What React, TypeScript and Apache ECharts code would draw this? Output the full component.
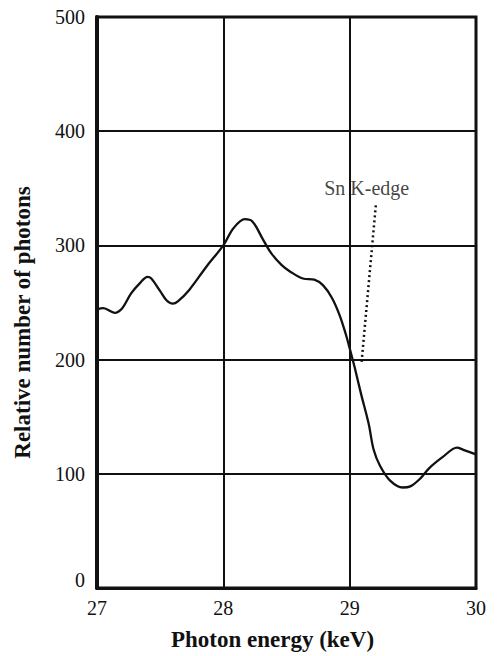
import React, { useEffect, useRef } from "react";
import * as echarts from "echarts";

const energy = [27.0, 27.05, 27.14, 27.2, 27.27, 27.34, 27.4, 27.43, 27.5, 27.55, 27.6, 27.64, 27.73, 27.87, 28.0, 28.08, 28.17, 28.23, 28.31, 28.38, 28.46, 28.53, 28.63, 28.72, 28.79, 28.86, 28.92, 28.97, 29.0, 29.04, 29.09, 29.15, 29.19, 29.24, 29.32, 29.42, 29.48, 29.56, 29.63, 29.74, 29.85, 29.9, 30.0];
const photons = [244, 245, 241, 245, 258, 267, 272.5, 271, 260, 252, 249, 251, 261, 282, 300, 315, 323, 321, 306, 293, 283, 277, 271, 270, 265, 254, 239, 222, 210, 193, 170, 144, 121, 107, 94, 88, 89, 96, 105, 115, 123, 121, 117];

const edgeLineX = [29.207, 29.093];
const edgeLineY = [335, 196];
const edgeLabelPos = [29.135, 350];
const edgeLabel = "Sn K-edge";

const xTicks = [27, 28, 29, 30];
const yTicks = [0, 100, 200, 300, 400, 500];
const xName = "Photon energy (keV)";
const yName = "Relative number of photons";

const FONT = "'Liberation Serif', 'Times New Roman', serif";
const INK = "#111";

export default function App() {
  const ref = useRef<HTMLDivElement>(null);
  useEffect(() => {
    if (!ref.current) return;
    const chart = echarts.init(ref.current, undefined, { renderer: "svg" });
    chart.setOption({
      animation: false,
      backgroundColor: "#fff",
      textStyle: { fontFamily: FONT, color: INK },
      grid: {
        left: 97,
        right: 23,
        top: 17,
        bottom: 64,
        show: true,
        borderColor: INK,
        borderWidth: 3,
      },
      xAxis: {
        type: "value",
        min: xTicks[0],
        max: xTicks[xTicks.length - 1],
        interval: 1,
        axisLine: { show: true, lineStyle: { color: INK, width: 3 } },
        axisTick: { show: false },
        splitLine: { show: true, lineStyle: { color: INK, width: 2 } },
        axisLabel: { color: INK, fontFamily: FONT, fontSize: 20, margin: 10 },
        name: xName,
        nameLocation: "middle",
        nameGap: 40,
        nameTextStyle: { fontFamily: FONT, fontWeight: "bold", fontSize: 23, color: INK, padding: [0, 28, 0, 0] },
      },
      yAxis: {
        type: "value",
        min: yTicks[0],
        max: yTicks[yTicks.length - 1],
        interval: 100,
        axisLine: { show: true, lineStyle: { color: INK, width: 4 } },
        axisTick: { show: false },
        splitLine: { show: true, lineStyle: { color: INK, width: 2 } },
        axisLabel: {
          color: INK,
          fontFamily: FONT,
          fontSize: 20,
          margin: 12,
          formatter: (v: number) => (v === 0 ? "{z|0}" : String(v)),
          rich: { z: { fontFamily: FONT, fontSize: 20, color: INK, padding: [0, 0, 16, 0] } },
        },
        name: yName,
        nameLocation: "middle",
        nameGap: 63,
        nameRotate: 90,
        nameTextStyle: { fontFamily: FONT, fontWeight: "bold", fontSize: 23, color: INK, padding: [0, 40, 0, 0] },
      },
      series: [
        {
          type: "line",
          data: energy.map((e, i) => [e, photons[i]]),
          smooth: 0.35,
          symbol: "none",
          lineStyle: { color: INK, width: 2.3 },
          z: 5,
        },
        {
          type: "line",
          data: edgeLineX.map((e, i) => [e, edgeLineY[i]]),
          symbol: "none",
          lineStyle: { color: INK, width: 2.5, type: [2, 3] },
          z: 5,
        },
        {
          type: "scatter",
          data: [edgeLabelPos],
          symbolSize: 0,
          label: {
            show: true,
            position: "inside",
            formatter: edgeLabel,
            fontFamily: FONT,
            fontSize: 20,
            color: INK,
          },
          z: 6,
        },
      ],
    });
    return () => chart.dispose();
  }, []);
  return <div ref={ref} style={{ width: 499, height: 656, position: "absolute", left: 0, top: 0 }} />;
}
